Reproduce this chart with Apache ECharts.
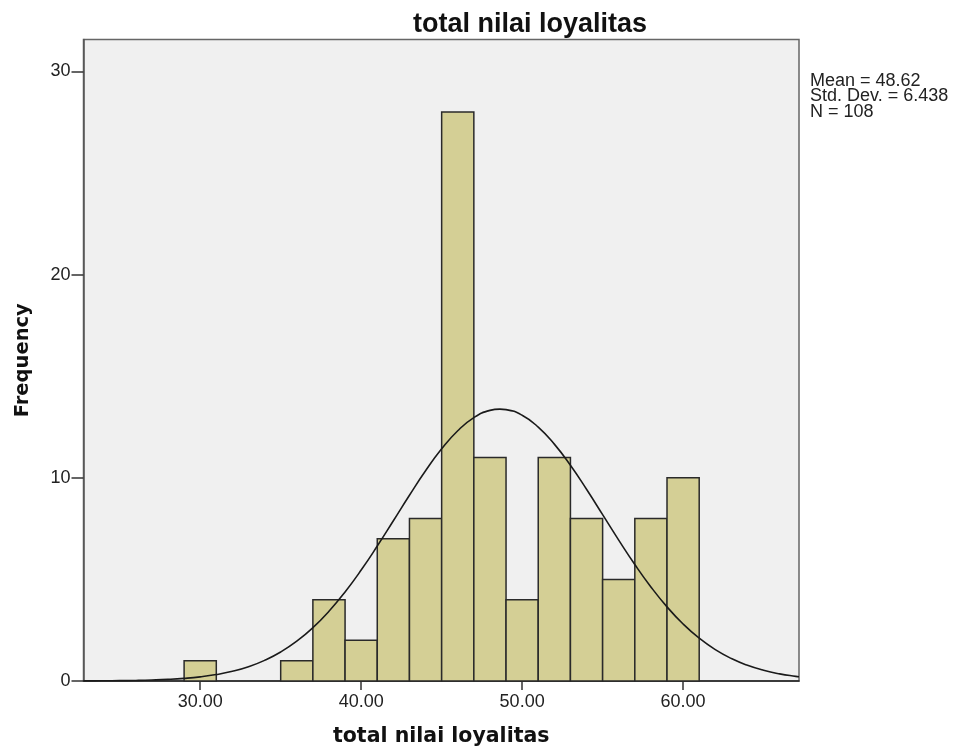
<!DOCTYPE html>
<html>
<head>
<meta charset="utf-8">
<script src="https://cdn.jsdelivr.net/npm/echarts@6/dist/echarts.min.js"></script>
<style>
html,body{margin:0;padding:0;background:#fff;}
#chart{width:959px;height:752px;}
</style>
</head>
<body>
<div id="chart"></div>
<script>
// Histogram bins (centers) and counts
const binCenters = [30, 36, 38, 40, 42, 44, 46, 48, 50, 52, 54, 56, 58, 60];
const binCounts  = [1, 1, 4, 2, 7, 8, 28, 11, 4, 11, 8, 5, 8, 10];
const binWidth = 2;
// Normal curve points
const curveX = [22.75,23,24,25,26,27,28,29,30,31,32,33,34,35,36,37,38,39,40,41,42,43,44,45,46,47,48,48.62,49,50,51,52,53,54,55,56,57,58,59,60,61,62,63,64,65,66,67,67.2];
const curveY = [0.004,0.005,0.009,0.016,0.028,0.048,0.079,0.129,0.204,0.316,0.478,0.705,1.016,1.427,1.959,2.624,3.431,4.381,5.459,6.641,7.886,9.141,10.343,11.424,12.316,12.962,13.318,13.38,13.357,13.076,12.497,11.658,10.616,9.436,8.188,6.936,5.735,4.629,3.647,2.804,2.106,1.543,1.104,0.772,0.526,0.350,0.227,0.21];
const xTicks = [30, 40, 50, 60];
const yTicks = [0, 10, 20, 30];
const statsLines = ['Mean = 48.62', 'Std. Dev. = 6.438', 'N = 108'];

const chart = echarts.init(document.getElementById('chart'));
const barData = binCenters.map((c, i) => [c, binCounts[i]]);
const curveData = curveX.map((x, i) => [x, curveY[i]]);

chart.setOption({
  animation: false,
  title: {
    text: 'total nilai loyalitas',
    left: 408, top: 6,
    textStyle: {fontFamily: '"Liberation Sans", Arial, sans-serif', fontWeight: 'bold', fontSize: 27, color: '#111'}
  },
  graphic: [{
    type: 'text', left: 810, top: 72,
    style: {text: statsLines.join('\n'), font: '18px "Liberation Sans", Arial, sans-serif', fill: '#222', lineHeight: 15.5}
  }],
  grid: {
    left: 83.5, right: 160, top: 39.5, bottom: 69,
    show: true, backgroundColor: '#f0f0f0', borderColor: '#666', borderWidth: 1.5
  },
  xAxis: {
    type: 'value', min: 22.75, max: 67.2,
    name: 'total nilai loyalitas', nameLocation: 'middle', nameGap: 45,
    nameTextStyle: {fontFamily: 'DejaVu Sans', fontWeight: 'bold', fontSize: 20.5, color: '#111'},
    axisLine: {show: true, onZero: false, lineStyle: {color: '#222', width: 1.5}},
    axisTick: {show: true, customValues: xTicks, length: 9, inside: false, lineStyle: {color: '#333', width: 1.5}},
    axisLabel: {customValues: xTicks, formatter: v => v.toFixed(2), fontFamily: '"Liberation Sans", Arial, sans-serif', fontSize: 18, color: '#222', margin: 12},
    splitLine: {show: false}
  },
  yAxis: {
    type: 'value', min: 0, max: 31.57,
    name: 'Frequency', nameLocation: 'middle', nameGap: 51, nameRotate: 90,
    nameTextStyle: {fontFamily: 'DejaVu Sans', fontWeight: 'bold', fontSize: 19.5, color: '#111'},
    axisLine: {show: true, lineStyle: {color: '#555', width: 1.5}},
    axisTick: {show: true, customValues: yTicks, length: 12, lineStyle: {color: '#333', width: 1.5}},
    axisLabel: {customValues: yTicks, fontFamily: '"Liberation Sans", Arial, sans-serif', fontSize: 18, color: '#222', margin: 13},
    splitLine: {show: false}
  },
  series: [{
    type: 'custom',
    data: barData,
    renderItem: function (params, api) {
      const c = api.value(0), v = api.value(1);
      const p0 = api.coord([c - binWidth / 2, v]);
      const p1 = api.coord([c + binWidth / 2, 0]);
      return {
        type: 'rect',
        shape: {x: p0[0], y: p0[1], width: p1[0] - p0[0], height: p1[1] - p0[1]},
        style: {fill: '#d4cf95', stroke: '#2a2a2a', lineWidth: 1.5}
      };
    },
    z: 2
  }, {
    type: 'line',
    data: curveData,
    smooth: true,
    symbol: 'none',
    lineStyle: {color: '#1a1a1a', width: 1.6},
    z: 3
  }]
});
</script>
</body>
</html>
